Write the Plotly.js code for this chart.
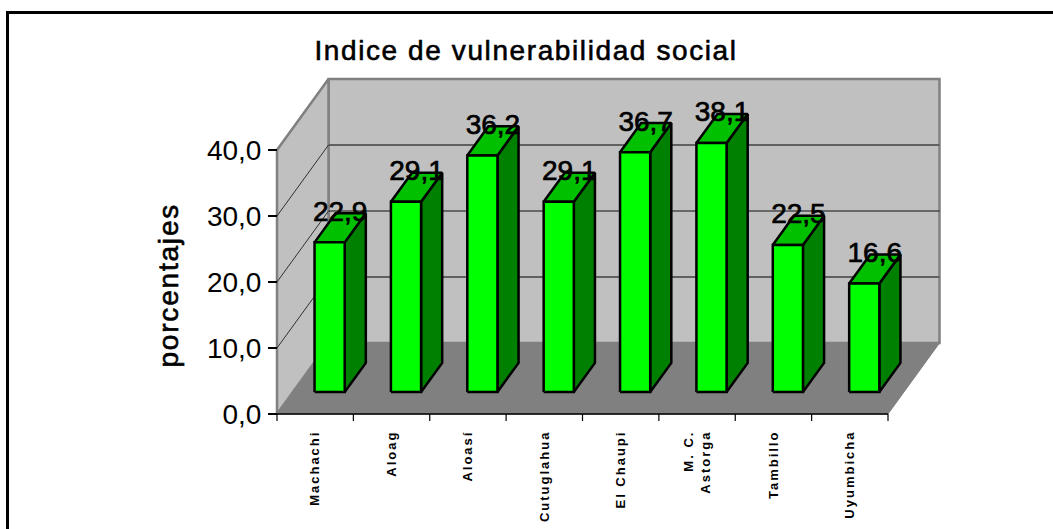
<!DOCTYPE html>
<html><head><meta charset="utf-8">
<script src="https://cdn.plot.ly/plotly-3.0.1.min.js"></script>
<style>
html,body{margin:0;padding:0;background:#fff;overflow:hidden}
#chart{width:1053px;height:529px}
.xtick text{letter-spacing:2px}
.gtitle{letter-spacing:1.6px;stroke:#000;stroke-width:.6px}
.annotation-text{letter-spacing:1.8px;stroke:#000;stroke-width:.6px}
.textpoint text{stroke:#000;stroke-width:.7px}
</style></head><body><div id="chart"></div>
<script>
const categories = ['Machachi','Aloag','Aloasí','Cutuglahua','El Chaupi','M. C.<br>Astorga','Tambillo','Uyumbicha'];
const values = [22.9,29.1,36.2,29.1,36.7,38.1,22.5,16.6];
const valueLabels = ['22,9','29,1','36,2','29,1','36,7','38,1','22,5','16,6'];
const yTicks = [0,10,20,30,40];
const axisTitle = 'porcentajes';
const chartTitle = 'Indice de vulnerabilidad social';

// pixel geometry of the chart: front axes L..R / T..B, plot area is larger to hold the 3D box
const L=277,R=888,T=150,B=414,W=1053,H=529;
const PL=270,PR=945,PT=76,PB=424;
const nCat=categories.length,yMax=40;
const uX=(R-L)/nCat, uY=(B-T)/yMax;
const depthX=51.5/uX, depthY=71/uY;
const p=(x,y,d)=>[x+d*depthX,y+d*depthY];
const barW=0.395,dFront=0.31,dBack=0.72,barC=0.48,barScale=0.99;

function poly(pts,fill,lineColor,lineWidth){
  const c=pts.concat([pts[0]]);
  return {type:'scatter',mode:'lines',x:c.map(q=>q[0]),y:c.map(q=>q[1]),fill:'toself',fillcolor:fill,
    line:{color:lineColor,width:lineWidth},hoverinfo:'skip',showlegend:false};
}
function seg(a,b,color,width){
  return {type:'scatter',mode:'lines',x:[a[0],b[0]],y:[a[1],b[1]],line:{color:color,width:width},
    hoverinfo:'skip',showlegend:false};
}
const traces=[];
// back wall, side wall, floor
traces.push(poly([p(0,0,1),p(nCat,0,1),p(nCat,yMax,1),p(0,yMax,1)],'#c0c0c0','#808080',2.5));
traces.push(poly([p(0,0,0),p(0,0,1),p(0,yMax,1),p(0,yMax,0)],'#c0c0c0','#808080',2.5));
// gridlines
const gridStyle={10:['#606060',2],20:['#111111',1.2],30:['#606060',2]};
yTicks.forEach(v=>{
  if(gridStyle[v]){
    traces.push(seg(p(0,v,1),p(nCat,v,1),gridStyle[v][0],gridStyle[v][1]));
    traces.push(seg(p(0,v,0),p(0,v,1),'#303030',1));
  }
});
traces.push(poly([p(0,0,0),p(nCat,0,0),p(nCat,0,1),p(0,0,1)],'#808080','#808080',1));
// front axis line and category tick marks
traces.push(seg(p(0,0,0),p(nCat,0,0),'#000',1.5));
for(let i=0;i<=nCat;i++) traces.push(seg([i,0],[i,-7/uY],'#000',1.2));
// bars
values.forEach((val,i)=>{
  const v=val*barScale;
  const x0=i+barC-barW/2,x1=i+barC+barW/2;
  traces.push(poly([p(x1,0,dFront),p(x1,0,dBack),p(x1,v,dBack),p(x1,v,dFront)],'#008000','#000',2.5));
  traces.push(poly([p(x0,v,dFront),p(x1,v,dFront),p(x1,v,dBack),p(x0,v,dBack)],'#00c000','#000',2.5));
  traces.push(poly([p(x0,0,dFront),p(x1,0,dFront),p(x1,v,dFront),p(x0,v,dFront)],'#00ff00','#000',2.5));
});
// value labels
const dMid=(dFront+dBack)/2;
traces.push({type:'scatter',mode:'text',
  x:values.map((v,i)=>p(i+barC,v*barScale,dMid)[0]),
  y:values.map((v,i)=>p(i+barC,v*barScale,dMid)[1]),
  text:valueLabels,textposition:'top center',
  textfont:{family:'"Liberation Sans",Arial,sans-serif',size:28,color:'#000'},
  hoverinfo:'skip',showlegend:false,cliponaxis:false});

const pw=PR-PL, ph=PB-PT;
const fx=x=>(x-PL)/pw, fy=y=>(PB-y)/ph;
const layout={
  width:W,height:H,paper_bgcolor:'#fff',plot_bgcolor:'rgba(0,0,0,0)',showlegend:false,
  margin:{l:PL,r:W-PR,t:PT,b:H-PB,pad:0},
  separators:',.',
  title:{text:chartTitle,x:526/W,xanchor:'center',y:1-50/H,yanchor:'middle',
    font:{family:'"Liberation Sans",Arial,sans-serif',size:28,color:'#000'}},
  xaxis:{range:[(PL-L)/uX,(PR-L)/uX],anchor:'free',position:fy(B),
    tickmode:'array',tickvals:categories.map((c,i)=>i+0.5),ticktext:categories,
    tickangle:-90,ticks:'',ticklabelstandoff:13,showgrid:false,zeroline:false,showline:false,
    tickfont:{family:'"Liberation Sans",sans-serif',size:13,weight:700,color:'#000'}},
  yaxis:{range:[(B-PB)/uY,(B-PT)/uY],anchor:'free',position:fx(L),
    tickmode:'array',tickvals:yTicks,tickformat:'.1f',ticks:'outside',ticklen:9,tickcolor:'#000',tickwidth:1.2,
    ticklabelstandoff:1,showgrid:false,zeroline:false,showline:false,
    tickfont:{family:'"Liberation Sans",Arial,sans-serif',size:28,color:'#000'}},
  annotations:[{text:axisTitle,textangle:-90,showarrow:false,xref:'paper',yref:'paper',x:fx(168),y:fy(285.5),
    xanchor:'center',yanchor:'middle',font:{family:'"Liberation Sans",Arial,sans-serif',size:28,color:'#000'}}],
  shapes:[
    {type:'rect',xref:'paper',yref:'paper',x0:fx(7.5),x1:fx(1070),y0:fy(560),y1:fy(12.5),line:{color:'#000',width:3},fillcolor:'rgba(0,0,0,0)',layer:'below'}
  ]
};
Plotly.newPlot('chart',traces,layout,{displayModeBar:false,staticPlot:true});
</script></body></html>
